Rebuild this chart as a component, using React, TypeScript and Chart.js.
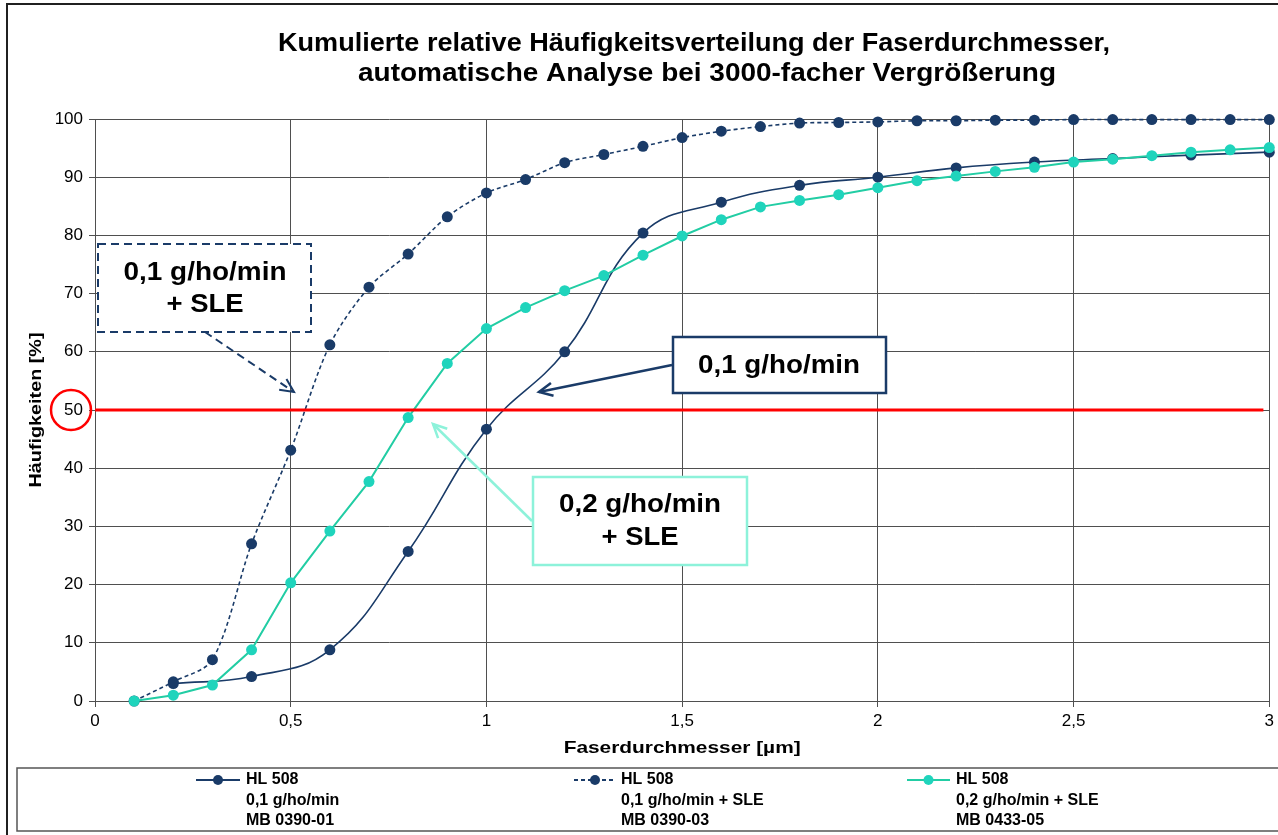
import React, { useEffect, useRef } from 'react';
import { Chart, registerables } from 'chart.js';
Chart.register(...registerables);

// ---------- data ----------
const xFine = [0.1, 0.2, 0.3, 0.4, 0.5, 0.6, 0.7, 0.8, 0.9, 1.0, 1.1, 1.2, 1.3, 1.4, 1.5, 1.6, 1.7, 1.8, 1.9, 2.0, 2.1, 2.2, 2.3, 2.4, 2.5, 2.6, 2.7, 2.8, 2.9, 3.0];
const xCoarse = [0.2, 0.4, 0.6, 0.8, 1.0, 1.2, 1.4, 1.6, 1.8, 2.0, 2.2, 2.4, 2.6, 2.8, 3.0];

// HL 508, 0,1 g/ho/min, MB 0390-01
const seriesA = [3.0, 4.2, 8.8, 25.7, 46.7, 60.0, 80.4, 85.7, 88.6, 90.0, 91.6, 92.6, 93.2, 93.8, 94.3];
// HL 508, 0,1 g/ho/min + SLE, MB 0390-03
const seriesB = [0, 3.3, 7.1, 27.0, 43.1, 61.2, 71.1, 76.8, 83.2, 87.3, 89.6, 92.5, 93.9, 95.3, 96.8, 97.9, 98.7, 99.3, 99.4, 99.5, 99.7, 99.7, 99.8, 99.8, 99.9, 99.9, 99.9, 99.9, 99.9, 99.9];
// HL 508, 0,2 g/ho/min + SLE, MB 0433-05
const seriesC = [0, 1.0, 2.75, 8.8, 20.3, 29.2, 37.7, 48.7, 58.0, 64.0, 67.6, 70.5, 73.1, 76.6, 79.9, 82.7, 84.9, 86.0, 87.0, 88.2, 89.4, 90.2, 91.0, 91.7, 92.6, 93.1, 93.7, 94.3, 94.7, 95.1];

const refLineX = [0, 2.985];
const refLineY = 50;

const titleLines = [
  'Kumulierte relative Häufigkeitsverteilung der Faserdurchmesser,',
  'automatische Analyse bei 3000-facher Vergrößerung',
];
const xTitle = 'Faserdurchmesser [µm]';
const yTitle = 'Häufigkeiten [%]';
const legendLabels = [
  ['HL 508', '0,1 g/ho/min', 'MB 0390-01'],
  ['HL 508', '0,1 g/ho/min + SLE', 'MB 0390-03'],
  ['HL 508', '0,2 g/ho/min + SLE', 'MB 0433-05'],
];
const calloutA = ['0,1 g/ho/min', '+ SLE'];
const calloutB = ['0,1 g/ho/min'];
const calloutC = ['0,2 g/ho/min', '+ SLE'];

// ---------- styles ----------
const NAVY = '#1A3B68';
const TEAL_LINE = '#22CDA4';
const TEAL_PT = '#1FD4BC';
const TEAL_LIGHT = '#8DF2DA';
const RED = '#FF0000';
const GRID = '#4F4F4F';
const FONT = "'Liberation Sans', Arial, sans-serif";

function fitText(ctx: CanvasRenderingContext2D, text: string, x: number, y: number, w: number, font: string, align: 'center' | 'left' = 'center') {
  ctx.save();
  ctx.font = font;
  const m = ctx.measureText(text).width;
  const sx = w / m;
  ctx.translate(x, y);
  ctx.scale(sx, 1);
  ctx.textAlign = align;
  ctx.textBaseline = 'middle';
  ctx.fillText(text, 0, 0);
  ctx.restore();
}

function arrow(ctx: CanvasRenderingContext2D, x0: number, y0: number, x1: number, y1: number, color: string, width: number, dash: number[]) {
  ctx.save();
  ctx.strokeStyle = color;
  ctx.lineWidth = width;
  ctx.setLineDash(dash);
  ctx.beginPath();
  ctx.moveTo(x0, y0);
  ctx.lineTo(x1, y1);
  ctx.stroke();
  ctx.setLineDash([]);
  const ang = Math.atan2(y1 - y0, x1 - x0);
  const L = 15;
  const a = 0.45;
  ctx.beginPath();
  ctx.moveTo(x1 - L * Math.cos(ang - a), y1 - L * Math.sin(ang - a));
  ctx.lineTo(x1, y1);
  ctx.lineTo(x1 - L * Math.cos(ang + a), y1 - L * Math.sin(ang + a));
  ctx.stroke();
  ctx.restore();
}

function box(ctx: CanvasRenderingContext2D, x: number, y: number, w: number, h: number, color: string, width: number, dash: number[]) {
  ctx.save();
  ctx.fillStyle = '#FFFFFF';
  ctx.fillRect(x, y, w, h);
  ctx.strokeStyle = color;
  ctx.lineWidth = width;
  ctx.setLineDash(dash);
  ctx.strokeRect(x, y, w, h);
  ctx.restore();
}

const decorPlugin = {
  id: 'decor',
  beforeDraw(chart: any) {
    const ctx = chart.ctx as CanvasRenderingContext2D;
    ctx.save();
    ctx.fillStyle = '#FFFFFF';
    ctx.fillRect(0, 0, chart.width, chart.height);
    ctx.restore();
  },
  afterDraw(chart: any) {
    const ctx = chart.ctx as CanvasRenderingContext2D;
    const area = chart.chartArea;
    const ys = chart.scales.y;

    // outer frame
    ctx.save();
    ctx.strokeStyle = '#202020';
    ctx.lineWidth = 2;
    ctx.beginPath();
    ctx.moveTo(7, 840);
    ctx.lineTo(7, 4);
    ctx.lineTo(1290, 4);
    ctx.stroke();
    ctx.restore();

    // title
    ctx.fillStyle = '#000';
    fitText(ctx, titleLines[0], 694, 44, 832, `bold 25px ${FONT}`);
    fitText(ctx, titleLines[1], 707, 74, 698, `bold 25px ${FONT}`);

    // axis titles
    fitText(ctx, xTitle, (area.left + area.right) / 2, 748, 237, `bold 17px ${FONT}`);
    ctx.save();
    ctx.translate(36, (area.top + area.bottom) / 2);
    ctx.rotate(-Math.PI / 2);
    fitText(ctx, yTitle, 0, 0, 155, `bold 17px ${FONT}`);
    ctx.restore();

    // red circle around 50
    const y50 = ys.getPixelForValue(refLineY);
    ctx.save();
    ctx.strokeStyle = RED;
    ctx.lineWidth = 2.5;
    ctx.beginPath();
    ctx.arc(71, y50, 20, 0, Math.PI * 2);
    ctx.stroke();
    ctx.restore();

    // callout A (dashed)
    box(ctx, 98, 244, 213, 88, NAVY, 2, [8, 5]);
    arrow(ctx, 205, 332, 294, 392, NAVY, 2, [8, 5]);
    ctx.fillStyle = '#000';
    fitText(ctx, calloutA[0], 205, 273, 163, `bold 26px ${FONT}`);
    fitText(ctx, calloutA[1], 205, 305, 77, `bold 26px ${FONT}`);

    // callout B
    box(ctx, 673, 337, 213, 56, NAVY, 2.5, []);
    arrow(ctx, 672, 365, 539, 392, NAVY, 2.5, []);
    ctx.fillStyle = '#000';
    fitText(ctx, calloutB[0], 779, 366, 162, `bold 26px ${FONT}`);

    // callout C (teal)
    box(ctx, 533, 477, 214, 88, TEAL_LIGHT, 2.5, []);
    arrow(ctx, 532, 521, 433, 424, TEAL_LIGHT, 2.5, []);
    ctx.fillStyle = '#000';
    fitText(ctx, calloutC[0], 640, 505, 162, `bold 26px ${FONT}`);
    fitText(ctx, calloutC[1], 640, 538, 77, `bold 26px ${FONT}`);

    // legend
    ctx.save();
    ctx.strokeStyle = '#555555';
    ctx.lineWidth = 1.5;
    ctx.strokeRect(17, 768, 1290, 63);
    ctx.restore();
    const entries = [
      { x0: 196, x1: 240, tx: 246, line: NAVY, pt: NAVY, dash: [] as number[] },
      { x0: 574, x1: 616, tx: 621, line: NAVY, pt: NAVY, dash: [4, 3] },
      { x0: 907, x1: 950, tx: 956, line: TEAL_LINE, pt: TEAL_PT, dash: [] as number[] },
    ];
    const rowY = [780, 801, 821];
    entries.forEach((e, i) => {
      ctx.save();
      ctx.strokeStyle = e.line;
      ctx.lineWidth = 2;
      ctx.setLineDash(e.dash);
      ctx.beginPath();
      ctx.moveTo(e.x0, rowY[0]);
      ctx.lineTo(e.x1, rowY[0]);
      ctx.stroke();
      ctx.setLineDash([]);
      ctx.fillStyle = e.pt;
      ctx.beginPath();
      ctx.arc((e.x0 + e.x1) / 2, rowY[0], 5, 0, Math.PI * 2);
      ctx.fill();
      ctx.fillStyle = '#000';
      ctx.font = `bold 16px ${FONT}`;
      ctx.textAlign = 'left';
      ctx.textBaseline = 'middle';
      legendLabels[i].forEach((t, j) => ctx.fillText(t, e.tx, rowY[j]));
      ctx.restore();
    });
  },
};

export default function App() {
  const ref = useRef<HTMLCanvasElement | null>(null);
  useEffect(() => {
    if (!ref.current) return;
    const chart = new Chart(ref.current, {
      type: 'line',
      data: {
        datasets: [
          {
            label: 'Referenz 50 %',
            data: refLineX.map((x) => ({ x, y: refLineY })),
            borderColor: RED,
            borderWidth: 3,
            pointRadius: 0,
            tension: 0,
          },
          {
            label: legendLabels[2].join(' '),
            data: xFine.map((x, i) => ({ x, y: seriesC[i] })),
            borderColor: TEAL_LINE,
            backgroundColor: TEAL_PT,
            borderWidth: 2,
            pointRadius: 5.5,
            pointBorderWidth: 0,
            pointBackgroundColor: TEAL_PT,
            tension: 0,
            clip: 10,
          },
          {
            label: legendLabels[0].join(' '),
            data: xCoarse.map((x, i) => ({ x, y: seriesA[i] })),
            borderColor: NAVY,
            backgroundColor: NAVY,
            borderWidth: 1.6,
            pointRadius: 5.5,
            pointBorderWidth: 0,
            pointBackgroundColor: NAVY,
            tension: 0.42,
            clip: 10,
          },
          {
            label: legendLabels[1].join(' '),
            data: xFine.map((x, i) => ({ x, y: seriesB[i] })),
            borderColor: NAVY,
            backgroundColor: NAVY,
            borderWidth: 1.6,
            borderDash: [4, 3],
            pointRadius: 5.5,
            pointBorderWidth: 0,
            pointBackgroundColor: NAVY,
            tension: 0.3,
            clip: 10,
          },
        ],
      },
      options: {
        animation: false,
        responsive: false,
        devicePixelRatio: 1,
        events: [],
        layout: { padding: { left: 0, top: 119, right: 4, bottom: 0 } },
        plugins: {
          legend: { display: false },
          title: { display: false },
          tooltip: { enabled: false },
        },
        scales: {
          x: {
            type: 'linear',
            min: 0,
            max: 3,
            afterFit: (s: any) => { s.height = 134; },
            ticks: {
              stepSize: 0.5,
              color: '#000',
              font: { family: FONT, size: 17 },
              padding: 4,
              maxRotation: 0,
              callback: (v: any) => String(v).replace('.', ','),
            },
            grid: { color: GRID, lineWidth: 1, tickLength: 6, drawTicks: true },
            border: { display: true, color: GRID, width: 1 },
          },
          y: {
            type: 'linear',
            min: 0,
            max: 100,
            afterFit: (s: any) => { s.width = 95; },
            ticks: {
              stepSize: 10,
              color: '#000',
              font: { family: FONT, size: 17 },
              padding: 6,
            },
            grid: { color: GRID, lineWidth: 1, tickLength: 6, drawTicks: true },
            border: { display: true, color: GRID, width: 1 },
          },
        },
      },
      plugins: [decorPlugin],
    } as any);
    return () => chart.destroy();
  }, []);
  return (
    <div style={{ position: 'absolute', left: 0, top: 0, width: 1278, height: 835, background: '#fff' }}>
      <canvas ref={ref} width={1278} height={835} style={{ display: 'block', width: 1278, height: 835 }} />
    </div>
  );
}
